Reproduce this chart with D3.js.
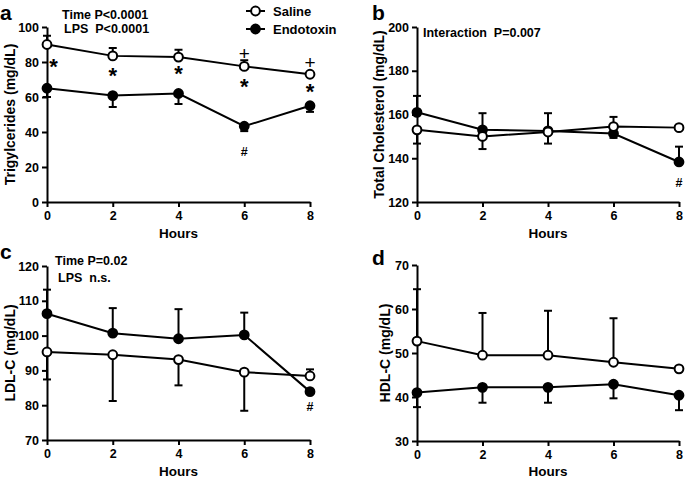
<!DOCTYPE html>
<html><head><meta charset="utf-8">
<script src="https://cdn.jsdelivr.net/npm/d3@7"></script>
<style>body{margin:0;background:#fff}svg{display:block}text{font-family:"Liberation Sans",Arial,sans-serif;font-weight:bold;fill:#000}</style>
</head><body><svg id="c" width="685" height="478"></svg>
<script>
const hours = [0, 2, 4, 6, 8];
const xTicks = [0, 2, 4, 6, 8];

const tgSaline = [90, 83.5, 82.8, 77.5, 73];
const tgSalineErrEnd = [95, 88, 87, 81, 74];
const tgEndo = [65, 60.8, 62, 43.3, 55];
const tgEndoErrEnd = [60, 54.3, 56, 40.5, 51.5];
const tgTicks = [0, 20, 40, 60, 80, 100];

const tcSaline = [153, 150, 152, 154.5, 154];
const tcSalineErrEnd = [146.7, 144.2, 146.7, 158.9, 154];
const tcEndo = [161, 153, 152.5, 151.3, 138.3];
const tcEndoErrEnd = [168.5, 160.6, 160.6, 149.3, 145.3];
const tcTicks = [120, 140, 160, 180, 200];

const ldlSaline = [95.3, 94.5, 93.1, 89.5, 88.4];
const ldlSalineErrEnd = [87.4, 81.2, 85.7, 78.4, 90.3];
const ldlEndo = [106.3, 100.7, 99.1, 100.2, 83.9];
const ldlEndoErrEnd = [113.2, 107.9, 107.6, 106.6, 83.9];
const ldlTicks = [70, 80, 90, 100, 110, 120];

const hdlSaline = [52.7, 49.5, 49.5, 47.9, 46.4];
const hdlSalineErrEnd = [64.5, 59.1, 59.6, 57.9, 46.4];
const hdlEndo = [41, 42.2, 42.2, 42.9, 40.4];
const hdlEndoErrEnd = [37.7, 38.7, 38.7, 39.7, 37];
const hdlTicks = [30, 40, 50, 60, 70];

const seriesNames = ["Saline", "Endotoxin"];

const svg = d3.select("#c");

function panel(o) {
  const g = svg.append("g");
  const x = d3.scaleLinear().domain([0, 8]).range([o.x0, o.x1]);
  const y = d3.scaleLinear().domain(o.domain).range([o.y1, o.y0]);
  const ya = g.append("g").attr("transform", `translate(${o.x0},0)`)
    .call(d3.axisLeft(y).tickValues(o.ticks).tickSize(5).tickSizeOuter(0).tickPadding(3));
  const xa = g.append("g").attr("transform", `translate(0,${o.y1})`)
    .call(d3.axisBottom(x).tickValues(xTicks).tickSize(5).tickSizeOuter(0).tickPadding(4));
  [ya, xa].forEach(a => {
    a.select(".domain").attr("stroke", "#000").attr("stroke-width", 2);
    a.selectAll(".tick line").attr("stroke", "#000").attr("stroke-width", 2);
    a.selectAll(".tick text").style("font-size", "12.5px").style("font-weight", "bold")
      .style("font-family", '"Liberation Sans",Arial,sans-serif');
  });
  g.append("text").attr("x", (o.x0 + o.x1) / 2).attr("y", o.hy)
    .attr("text-anchor", "middle").style("font-size", "13.5px").text("Hours");
  g.append("text").attr("transform", `translate(${o.ylx},${(o.y0 + o.y1) / 2}) rotate(-90)`)
    .attr("text-anchor", "middle").attr("dominant-baseline", "central")
    .style("font-size", "14px").text(o.ylabel);
  g.append("text").attr("x", o.lx).attr("y", o.ly).style("font-size", "21px").text(o.letter);

  const line = d3.line().x((d, i) => x(hours[i])).y(d => y(d));
  const series = [
    {v: o.saline, e: o.salineErr, fill: "#fff"},
    {v: o.endo, e: o.endoErr, fill: "#000"}
  ];
  const order = o.endoFirst ? [series[1], series[0]] : series;
  order.forEach(s => {
    s.e.forEach((ev, i) => {
      if (Math.abs(ev - s.v[i]) < 0.01) return;
      const cx = x(hours[i]);
      g.append("line").attr("x1", cx).attr("x2", cx).attr("y1", y(s.v[i])).attr("y2", y(ev))
        .attr("stroke", "#000").attr("stroke-width", 2);
      g.append("line").attr("x1", cx - 4).attr("x2", cx + 4).attr("y1", y(ev)).attr("y2", y(ev))
        .attr("stroke", "#000").attr("stroke-width", 2);
    });
  });
  order.forEach(s => {
    g.append("path").datum(s.v).attr("d", line).attr("fill", "none")
      .attr("stroke", "#000").attr("stroke-width", 2);
  });
  order.forEach(s => {
    g.selectAll(null).data(s.v).enter().append("circle")
      .attr("cx", (d, i) => x(hours[i])).attr("cy", d => y(d)).attr("r", 4.4)
      .attr("fill", s.fill).attr("stroke", "#000").attr("stroke-width", 2);
  });
  (o.marks || []).forEach(m => {
    const fs = m.t === "*" ? 22 : (m.t === "+" ? 19 : 12.5);
    const off = m.t === "*" ? 0.55 * fs : 0.36 * fs;
    g.append("text").attr("x", x(m.h)).attr("y", y(m.v) + off).attr("text-anchor", "middle")
      .style("font-size", fs + "px").style("font-weight", m.t === "+" ? "normal" : "bold").text(m.t);
  });
  (o.notes || []).forEach(n => {
    g.append("text").attr("x", n.x).attr("y", n.y).attr("dominant-baseline", "central")
      .style("font-size", "12.5px").style("white-space", "pre").attr("xml:space", "preserve").text(n.t);
  });
  return {g, x, y};
}

panel({x0: 47, x1: 310, y0: 27, y1: 202, domain: [0, 100], ticks: tgTicks, hy: 238,
  ylabel: "Trigylcerides (mg/dL)", ylx: 10, letter: "a", lx: 0, ly: 20,
  saline: tgSaline, salineErr: tgSalineErrEnd, endo: tgEndo, endoErr: tgEndoErrEnd,
  marks: [
    {t: "*", h: 0.2, v: 79.8}, {t: "*", h: 2, v: 74.7}, {t: "*", h: 4, v: 75.8},
    {t: "*", h: 6, v: 68.4}, {t: "*", h: 8, v: 65.5},
    {t: "+", h: 6, v: 85}, {t: "+", h: 8, v: 79.8}, {t: "#", h: 6, v: 29}
  ],
  notes: [{t: "Time P<0.0001", x: 62, y: 15}, {t: "LPS  P<0.0001", x: 64, y: 29}]
});

panel({x0: 417, x1: 679, y0: 27, y1: 202, domain: [120, 200], ticks: tcTicks, hy: 238,
  ylabel: "Total Cholesterol (mg/dL)", ylx: 379, letter: "b", lx: 372, ly: 20, endoFirst: true,
  saline: tcSaline, salineErr: tcSalineErrEnd, endo: tcEndo, endoErr: tcEndoErrEnd,
  marks: [{t: "#", h: 8, v: 129.1}],
  notes: [{t: "Interaction  P=0.007", x: 423, y: 33}]
});

panel({x0: 47, x1: 310, y0: 266, y1: 440, domain: [70, 120], ticks: ldlTicks, hy: 476,
  ylabel: "LDL-C (mg/dL)", ylx: 10, letter: "c", lx: 0, ly: 259,
  saline: ldlSaline, salineErr: ldlSalineErrEnd, endo: ldlEndo, endoErr: ldlEndoErrEnd,
  marks: [{t: "#", h: 8, v: 79.5}],
  notes: [{t: "Time P=0.02", x: 55, y: 261}, {t: "LPS  n.s.", x: 58, y: 278}]
});

panel({x0: 417, x1: 679, y0: 265, y1: 441, domain: [30, 70], ticks: hdlTicks, hy: 476,
  ylabel: "HDL-C (mg/dL)", ylx: 385, letter: "d", lx: 372, ly: 265,
  saline: hdlSaline, salineErr: hdlSalineErrEnd, endo: hdlEndo, endoErr: hdlEndoErrEnd
});

const lg = svg.append("g");
seriesNames.forEach((name, i) => {
  const yy = 11 + i * 18;
  lg.append("line").attr("x1", 246).attr("x2", 265).attr("y1", yy).attr("y2", yy)
    .attr("stroke", "#000").attr("stroke-width", 2);
  lg.append("circle").attr("cx", 255.5).attr("cy", yy).attr("r", 4.4)
    .attr("fill", i === 0 ? "#fff" : "#000").attr("stroke", "#000").attr("stroke-width", 2);
  lg.append("text").attr("x", 273).attr("y", yy).attr("dominant-baseline", "central")
    .style("font-size", "13px").text(name);
});
</script></body></html>
